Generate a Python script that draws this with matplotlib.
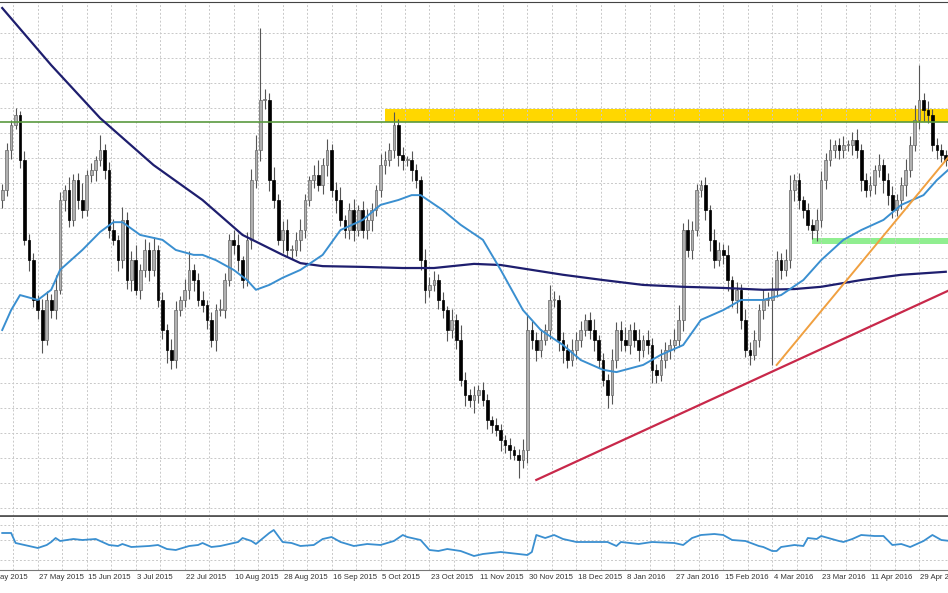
import numpy as np
import matplotlib
matplotlib.use("Agg")
import matplotlib.pyplot as plt

# EURUSD daily, prices in pips (1.0000 = 10000)
closes = [
    11283, 11389, 11456, 11482, 11362, 11150, 11096, 10990, 10963, 10884,
    10990, 10963, 11017, 11256, 11283, 11203, 11309, 11256, 11229, 11323,
    11336, 11362, 11389, 11336, 11176, 11150, 11096, 11203, 11043, 11096,
    11017, 11070, 11123, 11070, 11123, 10990, 10910, 10857, 10830, 10963,
    10990, 11017, 11070, 11043, 10990, 10977, 10937, 10884, 10963, 10963,
    11043, 11150, 11136, 11096, 11043, 11150, 11309, 11389, 11522, 11522,
    11309, 11256, 11150, 11176, 11123, 11123, 11150, 11176, 11256, 11309,
    11323, 11296, 11349, 11389, 11283, 11256, 11203, 11176, 11229, 11176,
    11229, 11176, 11203, 11229, 11283, 11349, 11362, 11389, 11456, 11376,
    11362, 11362, 11336, 11309, 11096, 11017, 11030, 11043, 10990, 10963,
    10910, 10937, 10884, 10777, 10737, 10724, 10737, 10751, 10724, 10671,
    10657, 10644, 10618, 10604, 10591, 10578, 10564, 10591, 10910, 10884,
    10857, 10884, 10910, 10990, 10990, 10884, 10857, 10830, 10857, 10884,
    10910, 10937, 10910, 10884, 10830, 10777, 10737, 10830, 10910, 10884,
    10870, 10910, 10884, 10857, 10884, 10870, 10804, 10790, 10830, 10857,
    10870, 10884, 10937, 11176, 11123, 11176, 11283, 11296, 11229, 11150,
    11096, 11123, 11110, 11043, 10990, 11017, 10937, 10857, 10844, 10884,
    10963, 10990, 10990, 11017, 11096, 11070, 11096, 11283, 11309, 11256,
    11229, 11190, 11176, 11203, 11309, 11362, 11389, 11402, 11389, 11402,
    11402, 11416, 11389, 11309, 11283, 11296, 11336, 11349, 11309, 11269,
    11229, 11256, 11296, 11336, 11402, 11469, 11522, 11495, 11482, 11402,
    11389, 11376, 11362,
]
upper_wick = [
    15, 20, 12, 18, 10, 25, 15, 20, 12, 30,
    25, 15, 40, 20, 12, 35, 15, 20, 45, 12,
    18, 10, 40, 15, 20, 30, 12, 35, 20, 25,
    40, 15, 30, 20, 35, 12, 20, 15, 30, 25,
    10, 30, 50, 15, 20, 25, 12, 20, 15, 30,
    20, 15, 25, 30, 12, 20, 30, 40, 192, 30,
    20, 35, 15, 25, 30, 12, 20, 30, 15, 10,
    25, 40, 20, 30, 15, 20, 35, 12, 20, 30,
    15, 25, 30, 20, 12, 30, 25, 20, 34, 15,
    20, 12, 25, 15, 10, 30, 20, 25, 15, 20,
    12, 30, 15, 40, 20, 15, 25, 12, 20, 15,
    10, 20, 15, 12, 18, 10, 15, 30, 40, 25,
    20, 30, 15, 40, 25, 12, 20, 15, 30, 20,
    25, 15, 20, 30, 12, 20, 15, 30, 20, 25,
    35, 15, 20, 30, 12, 25, 20, 15, 30, 20,
    15, 30, 40, 20, 30, 25, 15, 12, 20, 15,
    30, 20, 15, 25, 12, 20, 15, 30, 20, 25,
    15, 30, 20, 35, 25, 20, 30, 40, 15, 20,
    12, 20, 15, 30, 25, 20, 30, 15, 20, 25,
    15, 20, 30, 15, 20, 25, 12, 30, 15, 20,
    25, 15, 20, 30, 25, 40, 93, 20, 25, 15,
    20, 15, 12,
]
lower_wick = [
    20, 15, 25, 10, 20, 15, 30, 20, 25, 35,
    15, 20, 25, 12, 30, 20, 15, 25, 20, 15,
    20, 30, 15, 25, 20, 15, 30, 20, 25, 30,
    15, 25, 20, 30, 15, 20, 25, 35, 25, 20,
    15, 20, 25, 30, 15, 20, 25, 20, 30, 15,
    20, 15, 25, 30, 20, 15, 25, 20, 30, 25,
    30, 20, 15, 35, 20, 25, 15, 30, 20, 15,
    20, 15, 25, 30, 20, 35, 15, 20, 25, 30,
    15, 20, 25, 30, 15, 20, 25, 15, 20, 30,
    25, 15, 30, 20, 25, 35, 20, 15, 25, 20,
    30, 20, 25, 15, 30, 20, 35, 20, 15, 25,
    20, 15, 30, 20, 25, 15, 47, 20, 35, 25,
    30, 20, 15, 25, 20, 30, 35, 20, 15, 25,
    20, 15, 25, 30, 20, 15, 34, 25, 20, 30,
    15, 25, 20, 30, 20, 25, 35, 20, 15, 20,
    25, 15, 20, 30, 20, 25, 15, 20, 25, 30,
    20, 15, 25, 30, 20, 35, 25, 20, 27, 15,
    20, 25, 15, 173, 20, 25, 15, 20, 30, 25,
    20, 15, 25, 30, 20, 25, 15, 20, 25, 20,
    15, 25, 20, 30, 20, 15, 25, 20, 35, 25,
    20, 15, 25, 30, 20, 15, 25, 30, 20, 15,
    25, 20, 15,
]
first_open = 11256

# moving averages sampled at bar indices
ma200_bars = [0, 11, 22, 34, 45, 54, 63, 67, 72, 81, 90, 97, 106, 112, 119, 126,
              135, 144, 153, 162, 171, 178, 184, 193, 202, 212]
ma200_vals = [11767, 11615, 11474, 11349, 11256, 11163, 11110, 11088, 11080, 11078,
              11075, 11075, 11086, 11083, 11070, 11057, 11043, 11030, 11025, 11022,
              11017, 11019, 11025, 11043, 11057, 11065]
ma50_bars = [0, 2, 4, 8, 11, 13, 18, 22, 25, 27, 31, 36, 39, 43, 45, 48, 52, 55, 57, 60,
             63, 67, 72, 76, 81, 85, 89, 92, 94, 99, 103, 108, 112, 117, 121, 126, 130,
             135, 138, 144, 148, 153, 157, 162, 166, 171, 175, 180, 184, 189, 193, 198,
             202, 207, 210, 213]
ma50_vals = [10910, 10963, 11003, 10990, 11017, 11070, 11123, 11171, 11197, 11197, 11163,
             11150, 11123, 11110, 11110, 11096, 11070, 11043, 11017, 11030, 11049, 11070,
             11110, 11176, 11203, 11243, 11256, 11269, 11269, 11229, 11190, 11150, 11070,
             10963, 10910, 10870, 10830, 10804, 10798, 10817, 10844, 10870, 10937, 10963,
             10990, 10990, 11003, 11043, 11096, 11150, 11176, 11203, 11243, 11269, 11309,
             11341]

# levels and trendlines
resistance = 11463
zone_top, zone_start = 11498, 86
support_low, support_high, support_start = 11139, 11155, 182
red_bars, red_vals = [120, 213], [10511, 11017]
orange_bars, orange_vals = [174, 213], [10817, 11376]

# lower oscillator
osc_bars = [0, 2, 3, 7, 8, 10, 11, 12, 13, 16, 18, 21, 24, 26, 27, 29, 33, 35, 37, 39,
            42, 44, 45, 47, 49, 53, 54, 56, 57, 60, 61, 63, 65, 67, 70, 72, 74, 76, 79, 82,
            85, 88, 90, 91, 94, 96, 98, 100, 103, 106, 108, 110, 112, 116, 118, 119, 120,
            122, 124, 126, 129, 133, 136, 138, 139, 143, 146, 151, 153, 155, 157, 160, 162,
            164, 167, 170, 171, 172, 173, 174, 175, 178, 180, 181, 183, 184, 188, 189, 191,
            193, 196, 198, 200, 202, 204, 207, 209, 211, 213]
osc_vals = [37, 37, 27, 23, 22, 25, 28, 32, 29, 31, 30, 31, 25, 24, 26, 23, 24, 25, 21, 20,
            24, 25, 27, 23, 24, 28, 32, 29, 26, 37, 40, 28, 27, 24, 25, 31, 33, 28, 24, 26,
            25, 29, 35, 33, 30, 20, 19, 21, 19, 14, 16, 17, 18, 16, 15, 18, 35, 32, 35, 31,
            28, 28, 28, 24, 28, 26, 28, 27, 25, 32, 35, 36, 35, 30, 29, 24, 23, 21, 19, 19,
            23, 25, 24, 32, 31, 34, 29, 28, 31, 35, 34, 34, 25, 26, 23, 29, 35, 30, 29]

date_labels = ["27 May 2015", "15 Jun 2015", "3 Jul 2015", "22 Jul 2015", "10 Aug 2015",
               "28 Aug 2015", "16 Sep 2015", "5 Oct 2015", "23 Oct 2015", "11 Nov 2015",
               "30 Nov 2015", "18 Dec 2015", "8 Jan 2016", "27 Jan 2016", "15 Feb 2016",
               "4 Mar 2016", "23 Mar 2016", "11 Apr 2016", "29 Apr 2016"]
date_bars = [8 + 11 * i for i in range(len(date_labels))]

n = len(closes)
x = np.arange(n)
c = np.array(closes) / 1e4
o = np.array([first_open] + closes[:-1]) / 1e4
hi = np.maximum(o, c) + np.array(upper_wick) / 1e4
lo = np.minimum(o, c) - np.array(lower_wick) / 1e4

fig = plt.figure(figsize=(9.48, 5.93), dpi=100)
ax = fig.add_axes([0, 77 / 593, 1, 514 / 593])
ax2 = fig.add_axes([0, 23 / 593, 1, 53 / 593])
xlim = (-0.5, 212.5)
grid_kw = dict(color="#c8c8c8", linestyle=(0, (2, 2)), linewidth=0.7)

# main panel
ax.set_xlim(*xlim)
ax.set_ylim(1.0415, 1.1783)
ax.set_xticks([b - 5.5 for b in date_bars] + [b for b in date_bars])
ax.set_yticks(np.arange(1.1700, 1.04, -0.00665))
ax.grid(True, **grid_kw)
ax.tick_params(length=0, labelbottom=False, labelleft=False)
for s in ["left", "right"]:
    ax.spines[s].set_visible(False)
ax.spines["top"].set_color("#444444")
ax.spines["bottom"].set_color("#555555")
ax.spines["bottom"].set_linewidth(2)

up = c >= o
ax.vlines(x, lo, hi, color="#555555", linewidth=0.8, zorder=2)
body = np.maximum(np.abs(c - o), 0.0002)
ax.bar(x[up], body[up], bottom=np.minimum(o, c)[up], width=0.6,
       color="#b0b0b0", edgecolor="#666666", linewidth=0.5, zorder=3)
ax.bar(x[~up], body[~up], bottom=np.minimum(o, c)[~up], width=0.6,
       color="black", edgecolor="black", linewidth=0.5, zorder=3)

ax.axhline(resistance / 1e4, color="#5a9a40", linewidth=1.2, zorder=4)
ax.fill_between([zone_start, xlim[1]], resistance / 1e4, zone_top / 1e4,
                color="#ffd700", zorder=1.5, linewidth=0)
ax.fill_between([support_start, xlim[1]], support_low / 1e4, support_high / 1e4,
                color="#90ee90", zorder=1.5, linewidth=0)
ax.plot(ma200_bars, np.array(ma200_vals) / 1e4, color="#1e1e6e", linewidth=1.6, zorder=5)
ax.plot(ma50_bars, np.array(ma50_vals) / 1e4, color="#3a8fd0", linewidth=1.4, zorder=5)
ax.plot(red_bars, np.array(red_vals) / 1e4, color="#c8284a", linewidth=1.6, zorder=5)
ax.plot(orange_bars, np.array(orange_vals) / 1e4, color="#f0a040", linewidth=1.4, zorder=5)

# oscillator panel
ax2.set_xlim(*xlim)
ax2.set_ylim(0, 53)
ax2.set_xticks([b - 5.5 for b in date_bars] + [b for b in date_bars])
ax2.set_yticks([10, 30, 45])
ax2.grid(True, **grid_kw)
ax2.tick_params(length=0, labelbottom=False, labelleft=False)
for s in ["left", "right", "top"]:
    ax2.spines[s].set_visible(False)
ax2.spines["bottom"].set_color("#777777")
ax2.plot(osc_bars, osc_vals, color="#3a8fd0", linewidth=1.3)

txt_kw = dict(fontsize=5.6, family="Liberation Sans", color="#333333",
              ha="left", va="top", clip_on=False)
for b, lab in zip(date_bars, date_labels):
    ax2.text(b + 0.3, -4, lab, **txt_kw)
ax2.text(-0.5, -4, "ay 2015", **txt_kw)

fig.savefig("out.png", dpi=100)
